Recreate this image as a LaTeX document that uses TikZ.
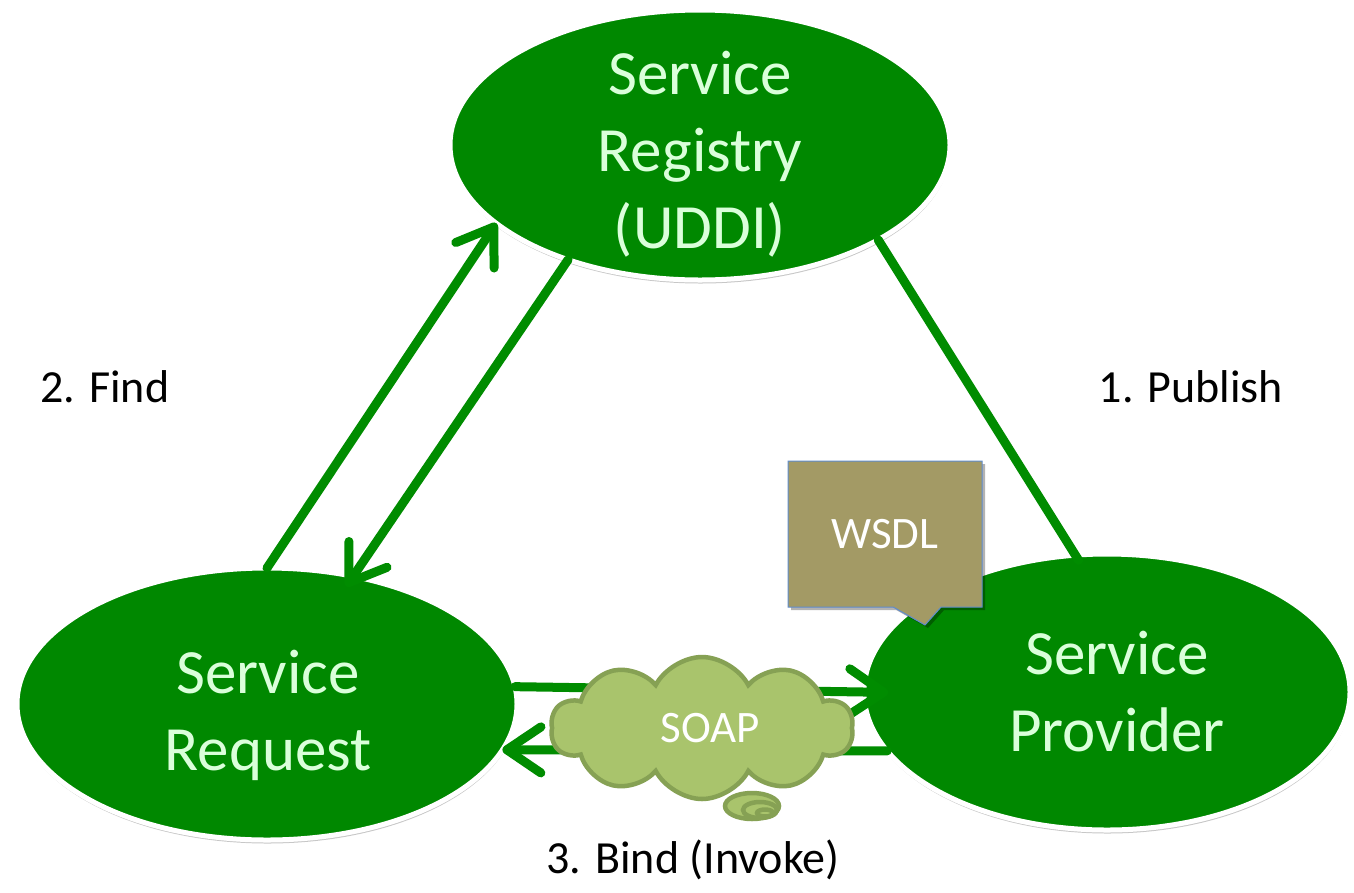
\documentclass[tikz,border=0pt]{standalone}
\usepackage{fontspec}
\setmainfont{Carlito}
\usetikzlibrary{shapes.geometric,shapes.symbols,shapes.callouts,arrows.meta,shadows}
\definecolor{svcgreen}{RGB}{0,136,0}
\definecolor{arrgreen}{RGB}{0,140,0}
\definecolor{lighttext}{RGB}{218,255,218}
\definecolor{cloudfill}{RGB}{169,196,108}
\definecolor{cloudline}{RGB}{134,161,84}
\definecolor{wsdlfill}{RGB}{163,154,101}
\definecolor{wsdlline}{RGB}{95,140,205}
\tikzset{
  svc/.style={ellipse, fill=svcgreen, draw=white, line width=5pt, inner sep=0pt, outer sep=0pt,
    drop shadow={shadow xshift=0.5pt, shadow yshift=-3.5pt, opacity=0.22, fill=black}},
  svctext/.style={text=lighttext, font=\fontsize{63}{77}\selectfont, align=center, inner sep=0pt},
  lbl/.style={font=\fontsize{46}{56}\selectfont, text=black, inner sep=0pt},
  flow/.style={draw=arrgreen, line width=9pt, line cap=round,
    preaction={draw=black, opacity=0.13, transform canvas={xshift=1.5pt, yshift=-2.5pt}}},
  arrowed/.style={-{Straight Barb[length=34pt,width=46pt,round]}},
  cloudpart/.style={fill=cloudfill, draw=cloudline, line width=4.5pt},
  whitetext/.style={text=white, font=\fontsize{45}{54}\selectfont, inner sep=0pt},
}
\begin{document}
\begin{tikzpicture}[x=1pt,y=-1pt]
\fill[white] (0,0) rectangle (1354,892);
\useasboundingbox (0,0) rectangle (1354,892);

% service ellipses
\node[svc, minimum width=500pt, minimum height=270pt] (reg) at (700,145) {};
\node[svc, minimum width=500pt, minimum height=272pt] (req) at (267,704) {};
\node[svc, minimum width=486pt, minimum height=276pt] (prov) at (1107,692) {};

\node[svctext] (regtxt) at (700,154) {Service\\Registry\\(UDDI)};
\node[svctext] (reqtxt) at (268,715) {Service\\Request};
\node[svctext] (provtxt) at (1117,692) {Service\\Provider};

% connectors
\draw[flow, arrowed] (req.90) -- (reg.201);
\draw[flow, arrowed, shorten >=-12pt] (reg.221.4) -- (req.56.7);
\draw[flow, shorten >=-6pt] (reg.332.4) -- (prov.103.1);
\draw[flow, arrowed, shorten >=-24pt] (req.4.9) -- (prov.180);
\draw[flow, arrowed] (prov.195) -- (req.349.9);

% SOAP cloud
\draw[cloudpart] (752,806) ellipse [x radius=27, y radius=13];
\draw[cloudpart] (760,810) ellipse [x radius=17, y radius=8];
\draw[cloudpart] (765,813) ellipse [x radius=8, y radius=3.5];
\node[cloud, cloud puffs=10, cloud puff arc=125, aspect=2.1, minimum width=302pt, minimum height=142pt,
      cloudpart, inner sep=0pt] (soap) at (702,728) {};
\node[whitetext] (soaptxt) at (710,728) {SOAP};

% WSDL callout
\node[rectangle callout, callout absolute pointer={(925,625)}, callout pointer width=48pt,
      minimum width=194pt, minimum height=146pt, fill=wsdlfill, draw=wsdlline, line width=1pt,
      whitetext, drop shadow={shadow xshift=3pt, shadow yshift=-3pt, opacity=0.3, fill=black}]
      (wsdl) at (885,534) {WSDL};

% labels
\node[lbl, anchor=base] (find) at (105,402) {2. Find};
\node[lbl, anchor=base] (pub) at (1191,402) {1. Publish};
\node[lbl, anchor=base] (bind) at (693,873) {3. Bind (Invoke)};
\end{tikzpicture}
\end{document}
